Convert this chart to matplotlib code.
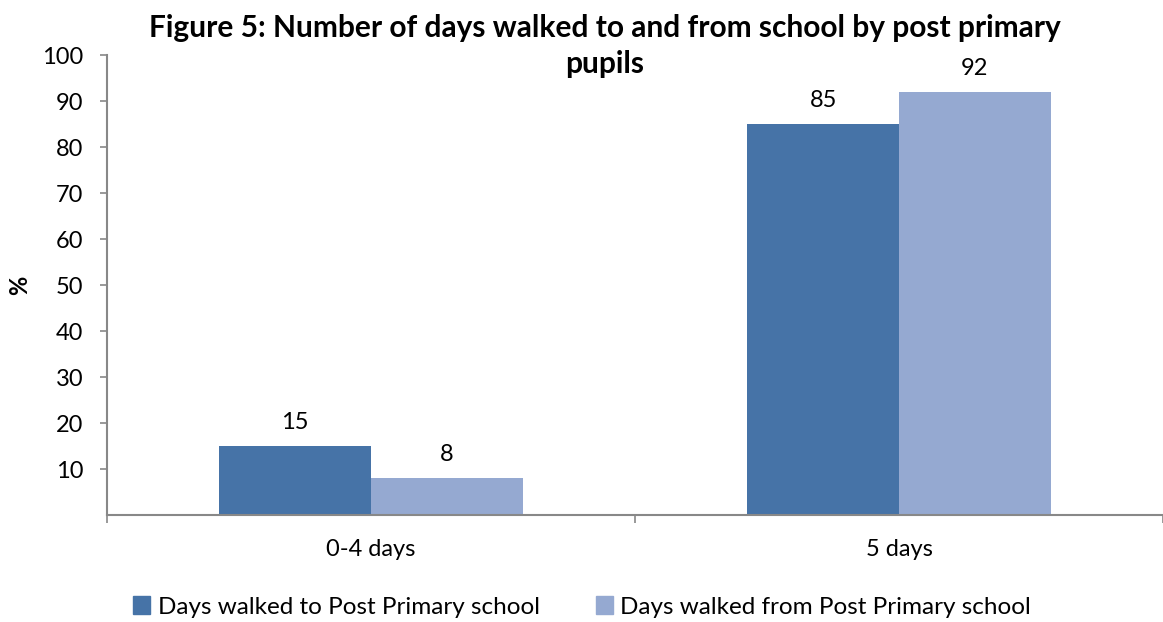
import matplotlib
matplotlib.use("Agg")
import matplotlib.pyplot as plt
from matplotlib.patches import Patch
import numpy as np

plt.rcParams["font.family"] = ["Lato", "DejaVu Sans"]

categories = ["0-4 days", "5 days"]
walked_to = [15, 85]
walked_from = [8, 92]
series_names = ["Days walked to Post Primary school",
                "Days walked from Post Primary school"]
colors = ["#4673A7", "#95A9D1"]
yticks = [10, 20, 30, 40, 50, 60, 70, 80, 90, 100]
title_lines = ["Figure 5: Number of days walked to and from school by post primary",
               "pupils"]

fig = plt.figure(figsize=(11.63, 6.22), dpi=100)
ax = fig.add_axes([107 / 1163, 1 - 515 / 622, (1163 - 107) / 1163, 460 / 622])

x = np.arange(len(categories))
w = 0.287
b1 = ax.bar(x - w / 2, walked_to, w, color=colors[0])
b2 = ax.bar(x + w / 2, walked_from, w, color=colors[1])
for bars in (b1, b2):
    for r in bars:
        ax.text(r.get_x() + r.get_width() / 2, r.get_height() + 2.8,
                f"{r.get_height():g}", ha="center", va="bottom", fontsize=17)

ax.set_xlim(-0.5, 1.5)
ax.set_ylim(0, 100)
ax.set_yticks(yticks)
ax.tick_params(axis="y", labelsize=17, length=5, width=1.2, color="#888888", pad=12)
ax.set_xticks([-0.5, 0.5, 1.5])
ax.set_xticklabels([])
ax.set_xticks(x, minor=True)
ax.set_xticklabels(categories, minor=True)
ax.tick_params(axis="x", which="major", length=6, width=1.2, color="#888888")
ax.tick_params(axis="x", which="minor", length=0, labelsize=17, pad=17)
for s in ("top", "right"):
    ax.spines[s].set_visible(False)
for s in ("left", "bottom"):
    ax.spines[s].set_color("#888888")
    ax.spines[s].set_linewidth(1.5)

fig.text(20 / 1163, 1 - 285 / 622, "%", rotation=90, ha="center", va="center",
         fontsize=17, fontweight="bold")
for line, ypx in zip(title_lines, (28, 64)):
    fig.text(605 / 1163, 1 - ypx / 622, line, ha="center", va="center",
             fontsize=21.5, fontweight="bold")

handles = [Patch(color=c, label=n) for c, n in zip(colors, series_names)]
fig.legend(handles=handles, loc="center", bbox_to_anchor=(582 / 1163, 1 - 607 / 622),
           ncol=2, frameon=False, fontsize=17.5, handlelength=0.7, handleheight=0.7,
           handletextpad=0.3, columnspacing=2.3, borderpad=0)

fig.savefig("out.png", dpi=100)
